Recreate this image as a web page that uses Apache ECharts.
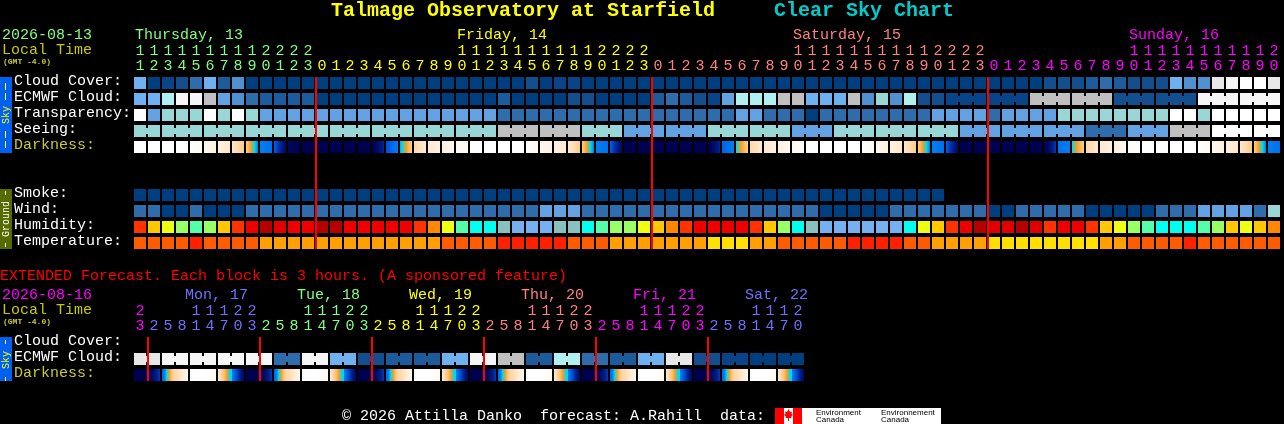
<!DOCTYPE html>
<html>
<head>
<meta charset="utf-8">
<title>Talmage Observatory at Starfield Clear Sky Chart</title>
<style>html,body{margin:0;padding:0;background:#000;overflow:hidden}#c{width:1284px;height:424px}</style>
<script src="https://cdn.jsdelivr.net/npm/echarts@6/dist/echarts.min.js"></script>
</head>
<body>
<div id="c"></div>
<script>
// ---- tick labels ----
const hoursMain = [11,12,13,14,15,16,17,18,19,20,21,22,23,
  0,1,2,3,4,5,6,7,8,9,10,11,12,13,14,15,16,17,18,19,20,21,22,23,
  0,1,2,3,4,5,6,7,8,9,10,11,12,13,14,15,16,17,18,19,20,21,22,23,
  0,1,2,3,4,5,6,7,8,9,10,11,12,13,14,15,16,17,18,19,20];
const hoursExt = [23,2,5,8,11,14,17,20,23,2,5,8,11,14,17,20,23,2,5,8,11,14,17,20,23,
  2,5,8,11,14,17,20,23,2,5,8,11,14,17,20,23,2,5,8,11,14,17,20];
const dayStartsMain = [13,37,61];
const dayStartsExt = [1,9,17,25,33,41];
const dayLabelsMain = [[0,'Thursday, 13'],[23,'Friday, 14'],[47,'Saturday, 15'],[71,'Sunday, 16']];
const dayLabelsExt = [[4,'Mon, 17'],[12,'Tue, 18'],[20,'Wed, 19'],[28,'Thu, 20'],[36,'Fri, 21'],[44,'Sat, 22']];
const rowsMain = ['Cloud Cover:','ECMWF Cloud:','Transparency:','Seeing:','Darkness:','','','Smoke:','Wind:','Humidity:','Temperature:'];
const rowsExt = ['Cloud Cover:','ECMWF Cloud:','Darkness:'];

// ---- series values (levels of each row's colour scale) ----
const cloudCover = [7,0,1,2,4,7,3,5,0,0,0,0,0,0,0,0,0,0,0,0,0,
  0,0,0,0,0,0,0,2,0,1,1,0,0,0,0,0,0,0,0,0,0,0,0,0,0,0,0,0,0,0,0,
  0,0,0,0,0,0,0,0,0,0,0,0,0,2,2,2,3,4,3,2,2,2,7,5,5,11,12,13,13,11];
const ecmwfCloud = [7,7,9,12,12,10,6,5,4,3,3,3,3,0,0,0,0,0,0,0,0,
  0,0,0,0,0,3,0,0,0,0,2,2,0,0,0,0,3,4,3,2,1,6,9,9,9,10,10,7,7,7,10,
  5,8,5,9,2,2,1,1,1,1,1,1,10,10,10,10,10,10,2,2,2,2,2,2,12,12,12,12,12,12];
const transparency = [13,6,8,8,8,13,8,13,8,6,6,6,6,6,6,6,6,6,6,6,6,
  6,6,6,6,6,4,4,4,4,4,4,4,4,4,4,4,4,4,4,4,4,4,6,6,4,4,4,0,4,4,4,
  4,4,4,4,4,6,6,6,6,4,6,6,6,6,8,8,8,8,8,8,8,8,13,13,8,13,13,13,13,13];
const seeing = [8,8,8,8,8,8,8,8,8,8,8,8,8,8,8,8,8,8,8,8,8,
  8,8,8,8,8,10,10,10,10,10,10,8,8,8,6,6,6,6,6,6,8,8,8,8,8,8,6,6,6,8,8,
  8,8,8,8,8,8,8,6,6,6,6,6,6,6,6,6,4,4,4,6,6,6,10,10,10,13,13,13,13,13];
const darkFrom = [0,0,0,0,0,.8,1.4,2.2,3.6,7,8,11,12,12,12,12,12,12,8.5,6.5,3,2,1.5,.8,
  0,0,0,0,0,.8,1.4,2,3.6,7,8,12,12,12,12,12,12,12,8,6,3,2,1.5,.8,
  0,0,0,0,0,.8,1.4,2.2,3.6,7,8,12,12,12,12,12,12,12,7.5,6,3,2,1.5,.5,
  0,0,0,0,0,.8,1.4,2.2,3.6,7];
const darkTo = [0,0,0,0,.8,1.4,2.2,3.6,7,7.5,11,12,12,12,12,12,12,9.5,7,3.5,2,1.5,.8,.3,
  0,0,0,0,.8,1.4,2,3.6,7,7.5,11,12,12,12,12,12,12,9.5,7,3.5,2,1.5,.8,.3,
  0,0,0,0,.8,1.4,2.2,3.6,7,7.5,11,12,12,12,12,12,12,9,7,3.5,2,1.5,.8,0,
  0,0,0,0,.8,1.4,2.2,3.6,7,7.5];
const smoke = [0,0,0,0,0,0,0,0,0,0,0,0,0,0,0,0,0,0,0,0,0,0,0,0,0,0,0,0,0,
  0,0,0,0,0,0,0,0,0,0,0,0,0,0,0,0,0,0,0,0,0,0,0,0,0,0,0,0,0];
const wind = [4,4,0,0,4,0,0,0,4,4,4,4,4,4,4,4,4,4,4,4,4,
  4,4,4,4,4,4,4,4,6,6,6,4,4,4,4,4,4,4,4,4,4,4,4,4,4,4,4,4,0,0,0,
  0,0,4,4,4,4,4,4,4,0,0,4,4,4,4,4,0,0,0,0,0,4,4,4,6,6,6,6,4,8];
const humidity = [3,5,6,7,8,7,5,3,2,0,1,2,2,0,0,2,2,2,2,2,3,
  4,6,8,9,9,10,11,11,11,10,10,9,8,7,7,6,5,4,3,2,2,2,2,3,5,7,9,10,11,11,11,
  11,11,11,9,6,5,3,2,0,1,1,0,1,3,2,2,3,5,6,7,8,9,9,9,8,7,5,6,5,4];
const temperature = [1,1,1,1,0,1,1,1,1,2,2,2,2,2,2,2,2,2,2,2,2,
  2,1,1,1,1,0,0,0,0,0,1,1,1,2,2,2,2,2,2,2,3,3,3,2,2,1,1,1,1,1,0,
  0,0,0,1,1,2,2,2,2,3,3,3,3,3,3,3,3,2,2,1,1,1,1,0,1,1,1,1,1,1];
const extEcmwf = [11,11,12,12,12,12,12,12,12,12,4,4,12,12,7,7,2,2,3,3,3,3,7,7,
  12,12,10,10,3,3,9,9,4,4,3,3,7,7,11,11,2,2,1,1,0,0,0,0];
const extDarkFrom = [12,12,8,3,0,0,2,7, 12,12,8,3,0,0,2,7, 12,12,8,3,0,0,2,7,
  12,12,8,3,0,0,2,7, 12,12,8,3,0,0,2,7, 12,12,8,3,0,0,2,7];
const extDarkTo = [12,9,3,1,0,.8,6,11, 12,9,3,1,0,.8,6,11, 12,9,3,1,0,.8,6,11,
  12,9,3,1,0,.8,6,11, 12,9,3,1,0,.8,6,11, 12,9,3,1,0,.8,6,11];

// block groups (forecast steps that span several hourly blocks)
const seeingGroups = [2,3,3,3,3,3,3,3,3,3,3,3,3,3,3,3,3,3,3,3,3,3,3,3,3,3,3,2];
const ecmwfTailStart = 58;
const extPair = 2;

// ---- colour scales ----
const skyColors = ['#003F7F','#0A4488','#134F8F','#1C5C9C','#2E6CAC','#4F90D0','#62A2E2','#6FB0F0',
  '#99D6D6','#B0F0F0','#C0C0C0','#E8E8E8','#F6F6F6','#FFFFFF'];
const humidityColors = ['#B50000','#E00000','#EE0000','#FF3300','#FF8800','#FFC800','#EEFF11','#99FF66',
  '#55FFAA','#00FFEE','#88C2BF','#77B0F0'];
const tempColors = ['#FF2000','#FF5C00','#FFA000','#FFE000'];
const darkColors = ['#FFFFFF','#FFF6EA','#FFEAD0','#FFD8A8','#FFC070','#F0A020','#00D8F0','#0080F0',
  '#0060E8','#0038B8','#001880','#000860','#000050'];
const dayColorsMain = ['#80FF80','#FFFF00','#FF8080','#FF00FF'];
const dayColorsExt = ['#FF00FF','#7070FF','#80FF80','#FFFF00','#FF8080','#FF00FF','#7070FF'];
const FONT = '"Liberation Mono"';
const LABEL_COLOR = '#FFFFFF', DARK_LABEL = '#C8C83C', RED = '#FF0000';

function darkGradient(a, b) {
  const lo = Math.min(a, b), hi = Math.max(a, b);
  const at = v => echarts.color.lerp(v / (darkColors.length - 1), darkColors);
  if (lo === hi) return at(a);
  const pts = [a];
  for (let v = Math.floor(lo) + 1; v < hi; v++) pts.push(v);
  pts.sort((p, q) => a < b ? p - q : q - p);
  pts.push(b);
  return {type:'linear', x:0, y:0, x2:1, y2:0, global:false,
    colorStops: pts.map(v => ({offset: Math.abs(v - a) / (hi - lo), color: at(v)}))};
}
function groupEnds(sizes) { const s = {}; let p = 0; sizes.forEach(n => { for (let k = 0; k < n - 1; k++) s[p + k] = 1; p += n; }); return s; }

const seeingJoin = groupEnds(seeingGroups);
const ecmwfJoin = {}; for (let i = ecmwfTailStart; i < 82; i++) if ((i - ecmwfTailStart) % 3 !== 2) ecmwfJoin[i] = 1;
const extJoin = {}; for (let i = 0; i < 48; i += extPair) extJoin[i] = 1;

// item: [hourIndex, rowIndex, from, to, join(0 none,1 narrow,2 full), scale]
function row(r, vals, scale, join, full) {
  return vals.map((v, i) => [i, r, v, v, join && join[i] ? (full ? 2 : 1) : 0, scale]);
}
function darkRow(r, from, to, join) {
  return from.map((v, i) => [i, r, v, to[i], join && join[i] ? 2 : 0, 3]);
}
const mainCells = [].concat(
  row(0, cloudCover, 0), row(1, ecmwfCloud, 0, ecmwfJoin), row(2, transparency, 0),
  row(3, seeing, 0, seeingJoin), darkRow(4, darkFrom, darkTo),
  row(7, smoke, 0), row(8, wind, 0), row(9, humidity, 1), row(10, temperature, 2));
const extCells = [].concat(row(1, extEcmwf, 0, extJoin), darkRow(2, extDarkFrom, extDarkTo, extJoin));

function renderCell(params, api) {
  const c = api.coord([api.value(0), api.value(1)]);
  const size = api.size([1, 1]);
  const w = size[0] - 2, h = size[1] - 4;
  const scale = api.value(5), a = api.value(2), b = api.value(3), join = api.value(4);
  const color = scale === 3 ? darkGradient(a, b)
    : (scale === 0 ? skyColors : scale === 1 ? humidityColors : tempColors)[a];
  const x = c[0] - w / 2, y = c[1] - h / 2;
  const kids = [{type:'rect', shape:{x, y, width:w, height:h}, style:{fill:color}}];
  if (join === 1) kids.push({type:'rect', shape:{x:x + w, y:y + 3, width:2, height:h - 6}, style:{fill:color}});
  if (join === 2) {
    const f = scale === 3 ? echarts.color.lerp(b / (darkColors.length - 1), darkColors) : color;
    kids.push({type:'rect', shape:{x:x + w, y, width:2, height:h}, style:{fill:f}});
  }
  return {type:'group', children:kids};
}
function renderBoundary(rows) {
  return function (params, api) {
    const i = api.value(0);
    const size = api.size([1, 1]);
    const top = api.coord([i, 0]), bot = api.coord([i, rows - 1]);
    return {type:'rect', z2:50,
      shape:{x:top[0] - size[0] / 2, y:top[1] - size[1] / 2 + 2, width:2, height:bot[1] - top[1] + size[1] - 4},
      style:{fill:RED}};
  };
}
function renderDayLabel(labels, dx, colors, colorShift) {
  return function (params, api) {
    const c = api.coord([api.value(0), 0]);
    return {type:'text', style:{x:c[0] + dx, y:c[1] - 48,
      text:labels[params.dataIndex][1], fill:colors[params.dataIndex + colorShift],
      font:'15px ' + FONT, align:'left', verticalAlign:'middle'}};
  };
}
function dayIdx(starts, i) { let d = 0; starts.forEach(s => { if (i >= s) d++; }); return d; }
function hourAxis(gridIndex, hours, starts, colors, pick, offset) {
  return {type:'category', gridIndex, position:'top', offset, data:hours.map((h, i) => i + ':' + h),
    axisLine:{show:false}, axisTick:{show:false}, splitLine:{show:false},
    axisLabel:{show:true, interval:0, margin:1, hideOverlap:false, fontFamily:FONT, fontSize:15,
      formatter:v => pick(+v.split(':')[1]),
      color:v => colors[dayIdx(starts, +v.split(':')[0])]}};
}
const tens = h => h >= 10 ? String(Math.floor(h / 10)) : '';
const units = h => String(h % 10);
function rowAxis(gridIndex, names) {
  return {type:'category', gridIndex, inverse:true, data:names, axisLine:{show:false}, axisTick:{show:false},
    splitLine:{show:false},
    axisLabel:{show:true, interval:0, align:'left', margin:119, fontFamily:FONT, fontSize:15,
      verticalAlign:'bottom', lineHeight:4,
      color:v => v === 'Darkness:' ? DARK_LABEL : LABEL_COLOR}};
}
function txt(text, x, y, fill, size, extra) {
  return {type:'text', x, y, silent:true, z:10,
    style:Object.assign({text, fill, font:(size || 15) + 'px ' + FONT, align:'left', verticalAlign:'middle'}, extra || {})};
}
function box(x, y, w, h, fill) { return {type:'rect', silent:true, z:5, shape:{x, y, width:w, height:h}, style:{fill}}; }
function vtxt(text, x, y, fill) {
  return {type:'text', x, y, rotation:Math.PI / 2, silent:true, z:10,
    style:{text, fill, font:'10px ' + FONT, align:'center', verticalAlign:'middle'}};
}
const STRIP = '#0060F0', OLIVE = '#556B00', YEL = '#FFFF00', TINY = '#C8C83C';

const chart = echarts.init(document.getElementById('c'), null, {renderer:'canvas', width:1284, height:424});
chart.setOption({
  backgroundColor:'#000000',
  animation:false,
  grid:[
    {left:133, top:75, width:1148, height:176, containLabel:false},
    {left:133, top:335, width:672, height:48, containLabel:false}
  ],
  xAxis:[
    hourAxis(0, hoursMain, dayStartsMain, dayColorsMain, units, 0),
    hourAxis(0, hoursMain, dayStartsMain, dayColorsMain, tens, 15),
    hourAxis(1, hoursExt, dayStartsExt, dayColorsExt, units, 0),
    hourAxis(1, hoursExt, dayStartsExt, dayColorsExt, tens, 15)
  ],
  yAxis:[rowAxis(0, rowsMain), rowAxis(1, rowsExt)],
  series:[
    {type:'custom', coordinateSystem:'cartesian2d', xAxisIndex:0, yAxisIndex:0, data:mainCells, renderItem:renderCell, silent:true, clip:false, encode:{x:0, y:1}},
    {type:'custom', coordinateSystem:'cartesian2d', xAxisIndex:2, yAxisIndex:1, data:extCells, renderItem:renderCell, silent:true, clip:false, encode:{x:0, y:1}},
    {type:'custom', coordinateSystem:'cartesian2d', xAxisIndex:0, yAxisIndex:0, z:5, data:dayStartsMain.map(i => [i, 0]), renderItem:renderBoundary(11), silent:true, clip:false, encode:{x:0, y:1}},
    {type:'custom', coordinateSystem:'cartesian2d', xAxisIndex:2, yAxisIndex:1, z:5, data:dayStartsExt.map(i => [i, 0]), renderItem:renderBoundary(3), silent:true, clip:false, encode:{x:0, y:1}},
    {type:'custom', coordinateSystem:'cartesian2d', xAxisIndex:0, yAxisIndex:0, z:5, data:dayLabelsMain.map(d => [d[0], 0]), renderItem:renderDayLabel(dayLabelsMain, -5, dayColorsMain, 0), silent:true, clip:false, encode:{x:0, y:1}},
    {type:'custom', coordinateSystem:'cartesian2d', xAxisIndex:2, yAxisIndex:1, z:5, data:dayLabelsExt.map(d => [d[0], 0]), renderItem:renderDayLabel(dayLabelsExt, -11, dayColorsExt, 1), silent:true, clip:false, encode:{x:0, y:1}}
  ],
  graphic:{elements:[
    txt('Talmage Observatory at Starfield', 331, 11, YEL, 20, {font:'bold 20px ' + FONT}),
    txt('Clear Sky Chart', 774, 11, '#00CCCC', 20, {font:'bold 20px ' + FONT}),
    txt('2026-08-13', 2, 35, '#80FF80'),
    txt('Local Time', 2, 50, '#C8C800'),
    txt('(GMT -4.0)', 3, 62, TINY, 8, {font:'bold 8px ' + FONT}),
    txt('EXTENDED Forecast. Each block is 3 hours. (A sponsored feature)', 0, 276, '#FF0000'),
    txt('2026-08-16', 2, 295, '#FF00FF'),
    txt('Local Time', 2, 310, '#C8C800'),
    txt('(GMT -4.0)', 3, 322, TINY, 8, {font:'bold 8px ' + FONT}),
    // side strips
    box(0, 77, 12, 76, STRIP), box(5, 83, 1, 7, YEL), box(5, 93, 1, 7, YEL), box(5, 131, 1, 7, YEL), box(5, 141, 1, 7, YEL),
    vtxt('Sky', 6, 115, YEL),
    box(0, 189, 12, 60, OLIVE), box(5, 191, 1, 4, '#FFFFFF'), box(5, 243, 1, 4, '#FFFFFF'),
    vtxt('Ground', 6, 219, '#FFFFFF'),
    box(0, 337, 12, 44, STRIP), box(5, 340, 1, 4, YEL), box(5, 377, 1, 4, YEL),
    vtxt('Sky', 6, 360, YEL),
    // footer and logo
    txt('\u00A9 2026 Attilla Danko  forecast: A.Rahill  data:', 342, 416, '#FFFFFF'),
    box(775, 408, 166, 16, '#FFFFFF'), box(775, 408, 9, 16, '#FF0000'), box(793, 408, 9, 16, '#FF0000'),
    {type:'polygon', silent:true, z:6, shape:{points:[[788.5,409],[790,412],[792,411.5],[791.5,414],[793,414.5],[791,417],[791.5,418],[789,418],[789,421],[788,421],[788,418],[785.5,418],[786,417],[784,414.5],[785.5,414],[785,411.5],[787,412]]}, style:{fill:'#FF0000'}},
    txt('Environment', 816, 412.5, '#000000', 8, {font:'8px "Liberation Sans"'}),
    txt('Canada', 816, 420, '#000000', 8, {font:'8px "Liberation Sans"'}),
    txt('Environnement', 881, 412.5, '#000000', 8, {font:'8px "Liberation Sans"'}),
    txt('Canada', 881, 420, '#000000', 8, {font:'8px "Liberation Sans"'})
  ]}
});
</script>
</body>
</html>
